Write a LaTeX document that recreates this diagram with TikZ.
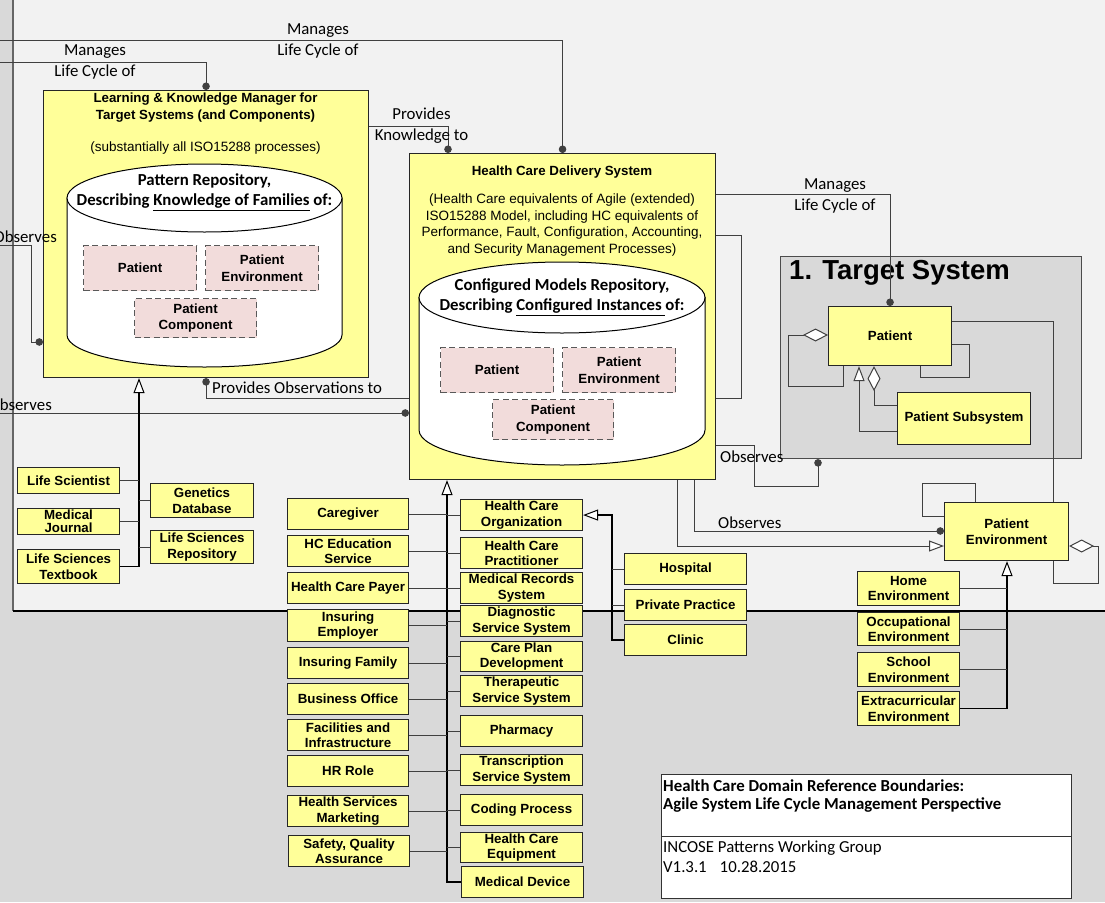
\documentclass[tikz,border=0pt]{standalone}
\usepackage{fontspec}
\setmainfont{Liberation Sans}
\newfontfamily\clb{Carlito}
\usetikzlibrary{arrows.meta}
\definecolor{ylw}{HTML}{FFFF99}
\definecolor{pinkish}{HTML}{F2DCDB}
\definecolor{panel}{HTML}{F2F2F2}
\definecolor{outer}{HTML}{D9D9D9}
\definecolor{edge}{HTML}{404040}
\tikzset{
  sz/.style 2 args={minimum width=#1pt, minimum height=#2pt},
  ybox/.style={draw=black!85, line width=1.1pt, fill=ylw, inner sep=0pt, anchor=north west,
    align=center, font=\bfseries\fontsize{13.3}{15.5}\selectfont},
  dbox/.style={draw=black!65, dash pattern=on 6pt off 3.5pt, line width=1.1pt, fill=pinkish,
    inner sep=0pt, anchor=north west, align=center, font=\bfseries\fontsize{13.3}{16.5}\selectfont},
  con/.style={draw=edge, line width=1pt},
  trunk/.style={draw=black, line width=1.4pt},
  todot/.style={-{Circle[length=7.5pt]}},
  fromdot/.style={{Circle[length=7.5pt]}-},
  togen/.style={-{Triangle[open, length=15pt, width=11pt, fill=white, line width=1pt]}},
  fromdia/.style={{Diamond[open, length=25pt, width=13pt, fill=white, line width=1pt]}-},
  lbl/.style={font=\clb\fontsize{16.8}{21}\selectfont, align=center, inner sep=0pt},
  cylhead/.style={font=\clb\bfseries\fontsize{16.8}{20}\selectfont, align=center, inner sep=0pt},
  plain/.style={font=\fontsize{13.5}{16.7}\selectfont, align=center, inner sep=0pt},
  headtxt/.style={font=\bfseries\fontsize{13.3}{17}\selectfont, align=center, inner sep=0pt}
}
\begin{document}
\begin{tikzpicture}[x=1pt, y=-1pt]
\useasboundingbox (0,0) rectangle (1105,902);
\clip (0,0) rectangle (1105,902);

% backdrop and the lighter system panel
\fill[outer] (0,0) rectangle (1105,902);
\fill[panel] (13,0) rectangle (1105,611);
\draw[black!60, line width=1.6pt] (13,0) -- (13,611);
\draw[black, line width=1.1pt] (13,611) -- (1105,611);

% learning & knowledge manager
\node[ybox, sz={325}{287}] (lkm) at (43,90) {};
\node[headtxt] (lkmtitle) at (205.5,107.5) {Learning \& Knowledge Manager for\\Target Systems (and Components)};
\node[plain] (lkmsub) at (205.5,148) {(substantially all ISO15288 processes)};
\filldraw[fill=white, draw=black, line width=1pt]
  (67,198) -- (67,335) arc[start angle=180, end angle=360, x radius=137.5pt, y radius=32pt] -- (342,198) -- cycle;
\filldraw[fill=white, draw=black, line width=1pt] (204.5,198) ellipse [x radius=137.5pt, y radius=34pt];
\node[cylhead] (prepo) at (204.5,192) {Pattern Repository,\\Describing \underline{Knowledge of Families} of:};
\node[dbox, sz={113}{45}] (lp) at (83,245) {Patient};
\node[dbox, sz={113}{45}] (lpe) at (205,245) {Patient\\Environment};
\node[dbox, sz={122}{39}] (lpc) at (134,298) {Patient\\Component};

% health care delivery system
\node[ybox, sz={306}{326}] (hcds) at (409,153) {};
\node[headtxt] (hcdstitle) at (562,172) {Health Care Delivery System};
\node[plain] (hcdsbody) at (562,225) {(Health Care equivalents of Agile (extended)\\ISO15288 Model, including HC equivalents of\\Performance, Fault, Configuration, Accounting,\\and Security Management Processes)};
\filldraw[fill=white, draw=black, line width=1pt]
  (419,297.5) -- (419,430) arc[start angle=180, end angle=360, x radius=143pt, y radius=35pt] -- (705,297.5) -- cycle;
\filldraw[fill=white, draw=black, line width=1pt] (562,297.5) ellipse [x radius=143pt, y radius=35.5pt];
\node[cylhead] (crepo) at (562,297) {Configured Models Repository,\\Describing \underline{Configured Instances }of:};
\node[dbox, sz={113}{45}] (cp) at (440,347) {Patient};
\node[dbox, sz={113}{45}] (cpe) at (562,347) {Patient\\Environment};
\node[dbox, sz={121}{40}] (cpc) at (492,399) {Patient\\Component};

% target system
\node[draw=black!70, line width=1.1pt, fill=outer, anchor=north west, sz={301}{202}, inner sep=0pt] (ts) at (780,256) {};
\node[font=\bfseries\fontsize{27.5}{30}\selectfont, anchor=west, inner sep=0pt] (tstitle) at (789,273) {1. Target System};
\node[ybox, sz={123}{59}] (pat) at (828,306) {Patient};
\node[ybox, sz={133}{52}] (psub) at (897,392) {Patient Subsystem};
\node[ybox, sz={124}{58}] (pe) at (944,502) {Patient\\Environment};

% environments
\node[ybox, sz={102}{34}] (home) at (857,571) {Home\\Environment};
\node[ybox, sz={102}{33}] (occ) at (857,612) {Occupational\\Environment};
\node[ybox, sz={102}{34}] (school) at (857,652) {School\\Environment};
\node[ybox, sz={102}{34}] (ext) at (857,691) {Extracurricular\\Environment};

% life science sources
\node[ybox, sz={102}{26}] (lsci) at (17,467) {Life Scientist};
\node[ybox, sz={102}{26}, font=\bfseries\fontsize{13.3}{13}\selectfont] (mj) at (17,508) {Medical\\Journal};
\node[ybox, sz={102}{34}] (lst) at (17,549) {Life Sciences\\Textbook};
\node[ybox, sz={103}{34}] (gdb) at (150,483) {Genetics\\Database};
\node[ybox, sz={103}{33}] (lsr) at (150,530) {Life Sciences\\Repository};

% health care actors, left column
\node[ybox, sz={121}{31}] (cg) at (287,498) {Caregiver};
\node[ybox, sz={121}{31}] (hces) at (287,535) {HC Education\\Service};
\node[ybox, sz={121}{31}] (hcpay) at (287,572) {Health Care Payer};
\node[ybox, sz={121}{32}] (ie) at (287,609) {Insuring\\Employer};
\node[ybox, sz={121}{31}] (ifam) at (287,647) {Insuring Family};
\node[ybox, sz={121}{31}] (bo) at (287,683) {Business Office};
\node[ybox, sz={121}{31}] (fi) at (287,719) {Facilities and\\Infrastructure};
\node[ybox, sz={121}{31}] (hr) at (287,755) {HR Role};
\node[ybox, sz={121}{31}] (hsm) at (287,795) {Health Services\\Marketing};
\node[ybox, sz={121}{31}] (sqa) at (288,835) {Safety, Quality\\Assurance};

% health care actors, right column
\node[ybox, sz={122}{31}] (hco) at (460,499) {Health Care\\Organization};
\node[ybox, sz={122}{31}] (hcpr) at (460,537) {Health Care\\Practitioner};
\node[ybox, sz={122}{31}] (mrs) at (460,572) {Medical Records\\System};
\node[ybox, sz={122}{31}] (dss) at (460,605) {Diagnostic\\Service System};
\node[ybox, sz={122}{30}] (cpd) at (460,641) {Care Plan\\Development};
\node[ybox, sz={122}{31}] (tss) at (460,675) {Therapeutic\\Service System};
\node[ybox, sz={122}{31}] (ph) at (460,715) {Pharmacy};
\node[ybox, sz={122}{31}] (tr) at (460,754) {Transcription\\Service System};
\node[ybox, sz={122}{31}] (cpr) at (460,794) {Coding Process};
\node[ybox, sz={122}{30}] (hce) at (460,832) {Health Care\\Equipment};
\node[ybox, sz={122}{31}] (md) at (461,866) {Medical Device};

% organisation kinds
\node[ybox, sz={122}{31}] (hosp) at (624,553) {Hospital};
\node[ybox, sz={122}{31}] (pp) at (624,589) {Private Practice};
\node[ybox, sz={122}{31}] (clin) at (624,624) {Clinic};

% title block
\node[draw=black!80, line width=1pt, fill=white, anchor=north west, sz={410}{124}, inner sep=0pt] (tb) at (661,774) {};
\draw[black!80, line width=1pt] (tb.west |- 0,836) -- (tb.east |- 0,836);
\node[font=\clb\bfseries\fontsize{16.8}{18.5}\selectfont, align=left, anchor=west, inner sep=0pt] (tbhead) at (663,796) {Health Care Domain Reference Boundaries:\\Agile System Life Cycle Management Perspective};
\node[font=\clb\fontsize{16.8}{20}\selectfont, align=left, anchor=west, inner sep=0pt] (tbfoot) at (663,857) {INCOSE Patterns Working Group\\V1.3.1\hspace{13pt}10.28.2015};

% free ends of the connectors coming in from the left
\coordinate (m1) at (0,40);
\coordinate (m2) at (0,62);
\coordinate (o1) at (0,245);
\coordinate (o2) at (0,413);

% relationships
\draw[con,todot] (m1) -| (hcds.north);
\draw[con,todot] (m2) -| (lkm.north);
\draw[con,todot] (o1) -| (31,342) -- (lkm.west |- 31,342);
\draw[con,todot] (o2) -- (hcds.west |- o2);
\draw[con,fromdot] (lkm.south) |- (hcds.west |- 0,398);
\draw[con,todot] (lkm.east |- 0,126) -| (hcds.north -| 448,0);
\draw[con,todot] (hcds.east |- 0,194) -| (pat.north);
\draw[con] (hcds.east |- 0,235) -| (741,398) -- (hcds.east |- 0,398);
\draw[con,todot] (hcds.east |- 0,445) -| (754,486) -| (ts.south -| 818,0);
\draw[con,todot] (hcds.south -| 694,0) |- (pe.west |- 0,531);
\draw[con,togen] (hcds.south -| 677,0) |- (pe.west |- 0,546);
\draw[con] (pe.north -| 975,0) |- (922,483) |- (pe.west |- 0,516);
\draw[con,fromdia] (pe.east |- 0,546) -| (1098,583) -| (pe.south -| 1053,0);
\draw[con] (pat.east |- 0,321) -| (pe.north -| 1053,0);
\draw[con,fromdia] (pat.west |- 0,335) -| (788,386) -| (pat.south -| 843,0);
\draw[con] (pat.east |- 0,344) -| (969,377) -| (pat.south -| 920,0);
\draw[con,togen] (psub.west |- 0,431) -| (pat.south -| 859,0);
\draw[con,fromdia] (pat.south -| 874,0) |- (psub.west |- 0,405);

% connector labels
\node[lbl] (lab1) at (318,40.5) {Manages\\Life Cycle of};
\node[lbl] (lab2) at (95,62) {Manages\\Life Cycle of};
\node[lbl] (lab3) at (421.5,126) {Provides\\Knowledge to};
\node[lbl] (lab4) at (835,195.5) {Manages\\Life Cycle of};
\node[lbl, anchor=east] (lab5) at (57,237) {Observes};
\node[lbl, anchor=east] (lab6) at (52,405) {Observes};
\node[lbl, anchor=west] (lab7) at (212,388) {Provides Observations to};
\node[lbl, anchor=west] (lab8) at (720,457) {Observes};
\node[lbl, anchor=west] (lab9) at (718,523) {Observes};

% specialisation trees
\draw[trunk,togen] (lst.east) -| (lkm.south -| 139,0);
\foreach \n in {lsci,mj} \draw[con] (\n.east) -- (\n.east -| 139,0);
\foreach \n in {gdb,lsr} \draw[con] (\n.west) -- (\n.west -| 139,0);

\draw[trunk,togen] (md.west) -| (hcds.south -| 447,0);
\foreach \n in {cg,hces,hcpay,ie,ifam,bo,fi,hr,hsm,sqa} \draw[con] (\n.east) -- (\n.east -| 447,0);
\foreach \n in {hco,hcpr,mrs,dss,cpd,tss,ph,tr,cpr,hce} \draw[con] (\n.west) -- (\n.west -| 447,0);

\draw[trunk,togen] (clin.west) -- (clin.west -| 612,0) |- (hco.east);
\foreach \n in {hosp,pp} \draw[con] (\n.west) -- (\n.west -| 612,0);

\draw[trunk,togen] (ext.east) -| (pe.south -| 1007,0);
\foreach \n in {home,occ,school} \draw[con] (\n.east) -- (\n.east -| 1007,0);
\end{tikzpicture}
\end{document}
